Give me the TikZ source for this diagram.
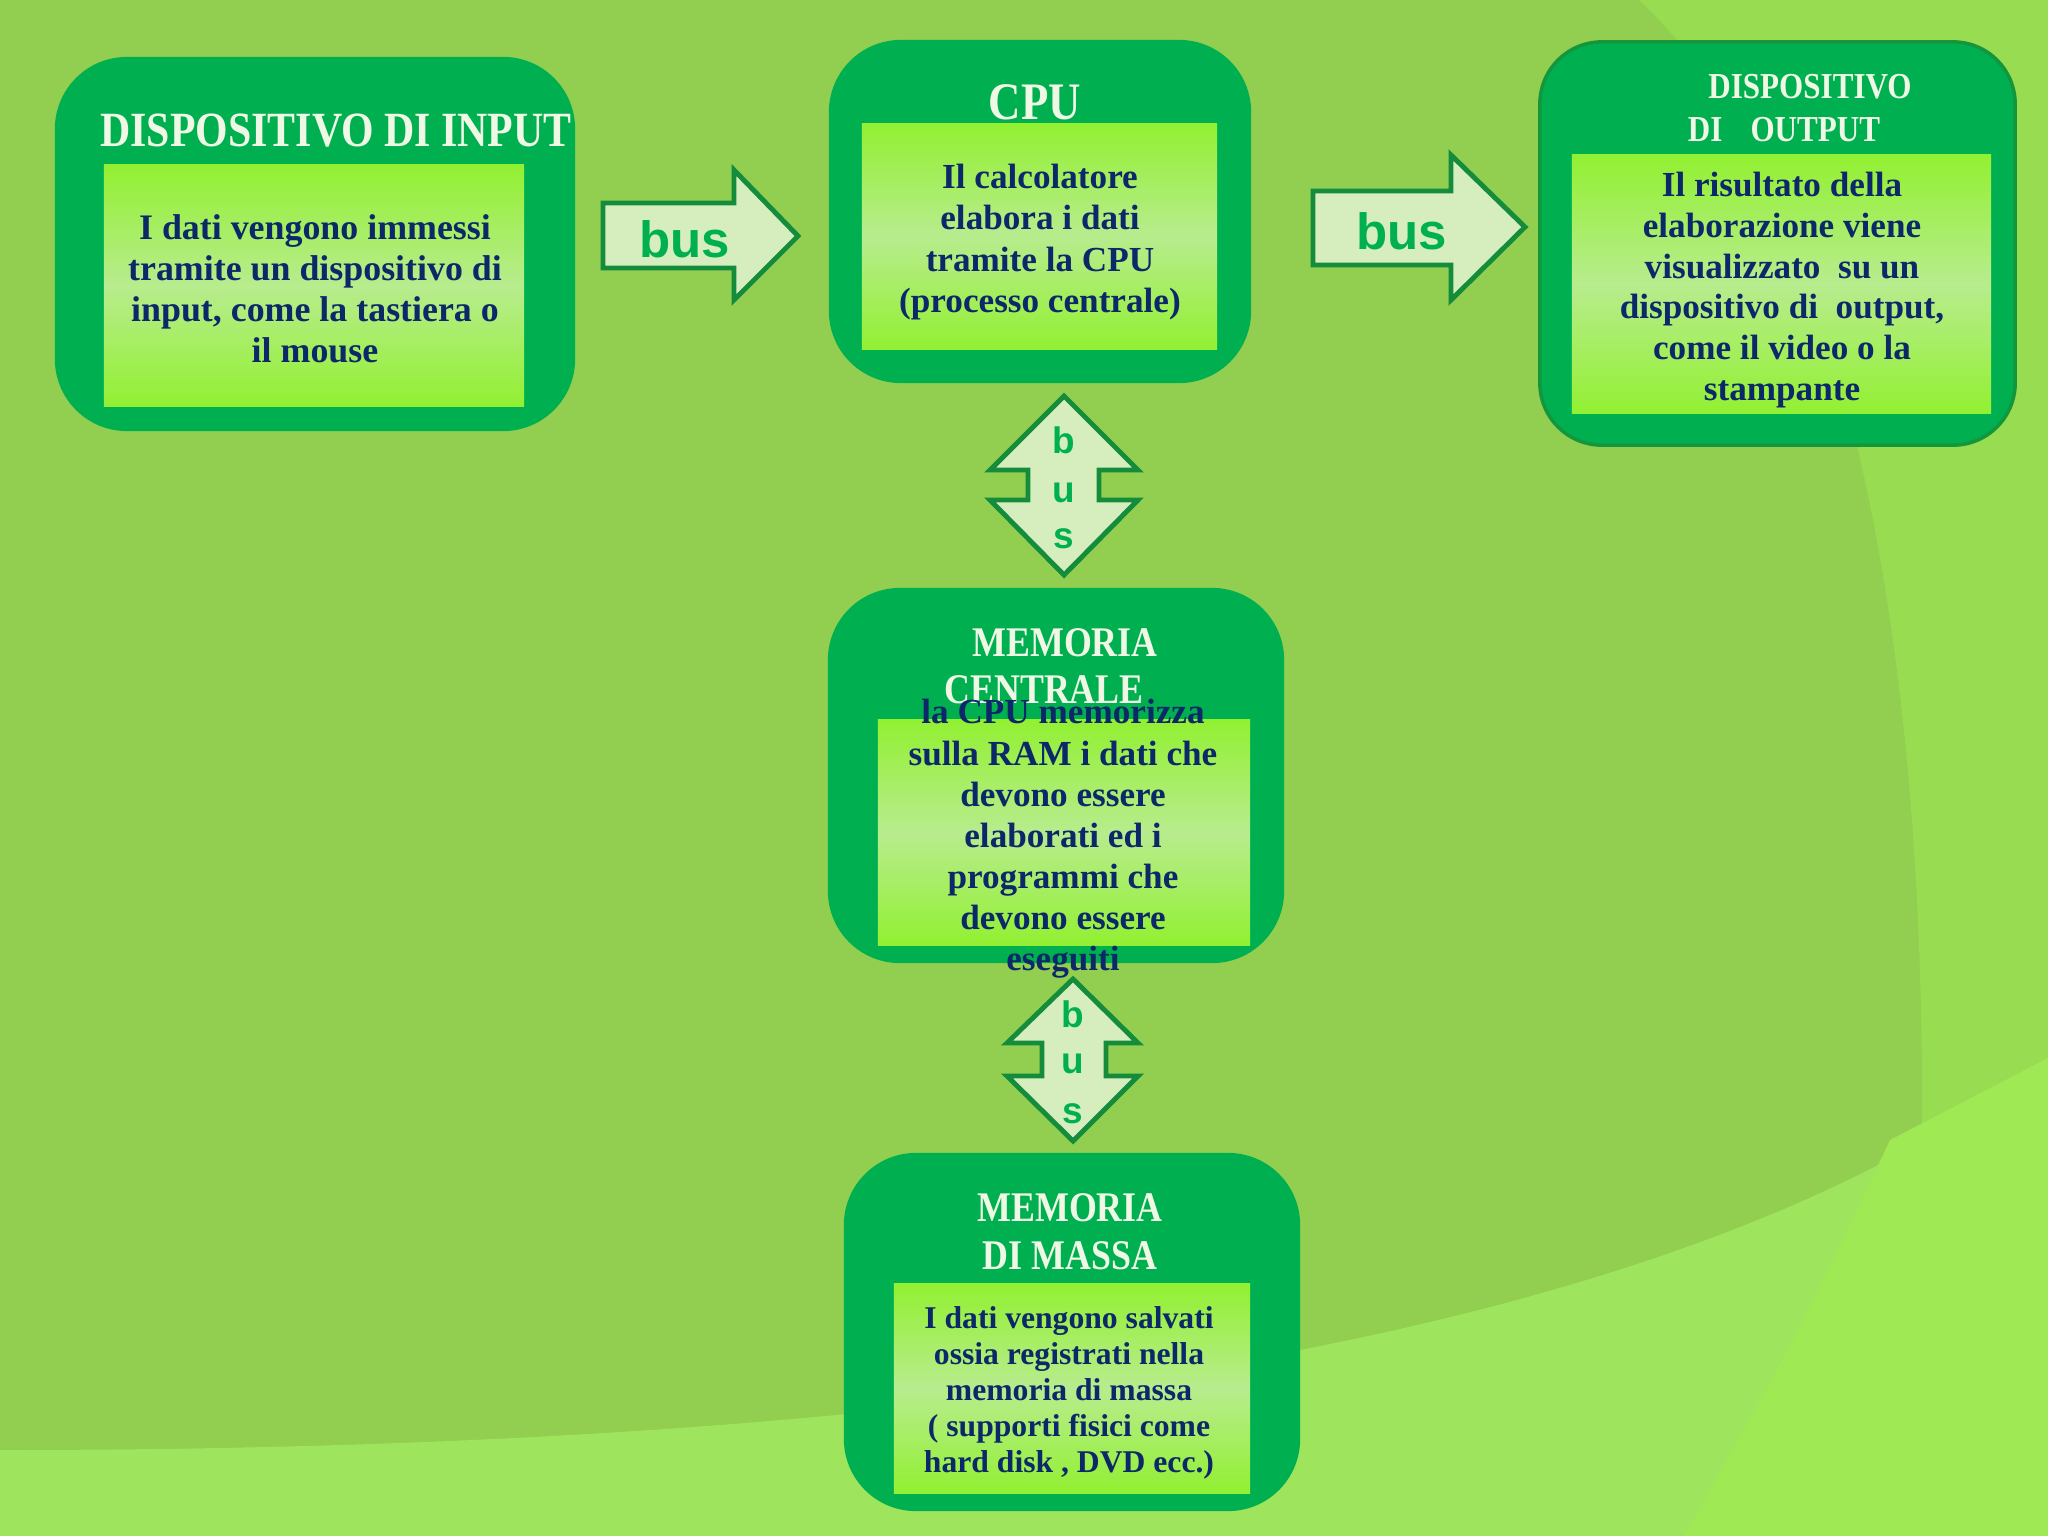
\documentclass[tikz,border=0pt]{standalone}
\usepackage{fontspec}
\newfontfamily\ttlfont{Liberation Serif}[FakeStretch=0.85]
\newfontfamily\bdyfont{Liberation Serif}
\newfontfamily\busfont{Liberation Sans}
\newcommand\fsz[2]{\fontsize{#1}{#2}\selectfont}
\definecolor{bgmain}{RGB}{146,206,80}
\definecolor{bgtr}{RGB}{152,220,82}
\definecolor{bgbot}{RGB}{158,228,92}
\definecolor{bgcorner}{RGB}{158,233,84}
\definecolor{boxgreen}{RGB}{0,176,80}
\definecolor{boxborder}{RGB}{20,150,60}
\definecolor{innertop}{RGB}{146,240,50}
\definecolor{innermid}{RGB}{184,236,142}
\definecolor{ttlcol}{RGB}{238,248,228}
\definecolor{bdycol}{RGB}{12,40,105}
\definecolor{arrfill}{RGB}{214,238,190}
\definecolor{arrline}{RGB}{20,140,60}
\definecolor{buscol}{RGB}{0,176,80}
\begin{document}
\begin{tikzpicture}[x=0.01cm,y=-0.01cm,
  obox/.style={fill=boxgreen, rounded corners=0.72cm, inner sep=0pt},
  ibox/.style={top color=innertop, bottom color=innertop, middle color=innermid, inner sep=0pt},
  ttl/.style={text=ttlcol, inner sep=0pt, align=center},
  bdy/.style={text=bdycol, inner sep=0pt, align=center},
  barrow/.style={fill=arrfill, draw=arrline, line width=1.4pt, line join=miter},
  bustxt/.style={text=buscol, inner sep=0pt, anchor=base, font=\busfont\bfseries\fsz{14.5pt}{18pt}},
  vbustxt/.style={text=buscol, inner sep=0pt, anchor=base, font=\busfont\bfseries\fsz{10.5pt}{13pt}}]
\useasboundingbox (0,0) rectangle (2048,1536);
% background
\fill[bgmain] (0,0) rectangle (2048,1536);
\fill[bgtr] (1639,0) .. controls (1800,150) and (1920,500) .. (1922,1090) -- (1922,1250) -- (2048,1250) -- (2048,0) -- cycle;
\fill[bgbot] (0,1450) .. controls (1000,1450) and (1700,1330) .. (2048,1058) -- (2048,1536) -- (0,1536) -- cycle;
\fill[bgcorner] (1890,1140) .. controls (1800,1330) .. (1684,1536) -- (2048,1536) -- (2048,1058) -- cycle;
% input
\node[obox, minimum width=5.20cm, minimum height=3.74cm] (inO) at (315,244) {};
\node[ibox, minimum width=4.20cm, minimum height=2.41cm] (inI) at (314,285.5) {};
\node[ttl, font=\ttlfont\bfseries\fsz{14pt}{16pt}] (inT) at (336,131) {DISPOSITIVO DI INPUT};
\node[bdy, font=\bdyfont\bfseries\fsz{10.2pt}{11.7pt}] (inB) at (315,289) {I dati vengono immessi\\tramite un dispositivo di\\input, come la tastiera o\\il mouse};
% cpu
\node[obox, minimum width=4.22cm, minimum height=3.43cm] (cpuO) at (1040,211.5) {};
\node[ibox, minimum width=3.55cm, minimum height=2.25cm] (cpuI) at (1039.5,236.5) {};
\node[ttl, font=\ttlfont\bfseries\fsz{15pt}{17pt}] (cpuT) at (1035,102) {CPU};
\node[bdy, font=\bdyfont\bfseries\fsz{10pt}{11.8pt}] (cpuB) at (1040,242) {Il calcolatore\\elabora i dati\\tramite la CPU\\(processo centrale)};
% output
\node[obox, draw=boxborder, line width=1pt, rounded corners=0.62cm, minimum width=4.75cm, minimum height=4.03cm] (outO) at (1777.5,243.5) {};
\node[ibox, minimum width=4.19cm, minimum height=2.58cm] (outI) at (1781.5,284) {};
\node[ttl, font=\ttlfont\bfseries\fsz{10.4pt}{12pt}] (outT1) at (1810,87) {DISPOSITIVO};
\node[ttl, font=\ttlfont\bfseries\fsz{10.4pt}{12pt}] (outT2) at (1784,130) {DI\hspace{8pt}OUTPUT};
\node[bdy, font=\bdyfont\bfseries\fsz{10pt}{11.6pt}] (outB) at (1782,290) {Il risultato della\\elaborazione viene\\visualizzato\ \ su un\\dispositivo di\ \ output,\\come il video o la\\stampante};
% memoria centrale
\node[obox, minimum width=4.56cm, minimum height=3.75cm] (mcO) at (1056,775.5) {};
\node[ibox, minimum width=3.72cm, minimum height=2.25cm] (mcI) at (1064,832.5) {};
\node[ttl, font=\ttlfont\bfseries\fsz{12pt}{14pt}] (mcT1) at (1065,643) {MEMORIA};
\node[ttl, font=\ttlfont\bfseries\fsz{12pt}{14pt}] (mcT2) at (1044,690) {CENTRALE};
\node[bdy, font=\bdyfont\bfseries\fsz{10pt}{11.7pt}] (mcB) at (1063,839) {la CPU memorizza\\sulla RAM i dati che\\devono essere\\elaborati ed i\\programmi che\\devono essere\\eseguiti};
% memoria di massa
\node[obox, minimum width=4.56cm, minimum height=3.58cm] (mmO) at (1072,1332) {};
\node[ibox, minimum width=3.56cm, minimum height=2.09cm] (mmI) at (1072,1388.5) {};
\node[ttl, font=\ttlfont\bfseries\fsz{12pt}{13.7pt}] (mmT) at (1070,1232) {MEMORIA\\DI MASSA};
\node[bdy, font=\bdyfont\bfseries\fsz{9pt}{10.2pt}] (mmB) at (1069,1393) {I dati vengono salvati\\ossia registrati nella\\memoria di massa\\( supporti fisici come\\hard disk , DVD ecc.)};
% bus arrows
\draw[barrow] (603,203) -- (734,203) -- (734,170) -- (798,236) -- (734,300) -- (734,268) -- (603,268) -- cycle;
\node[bustxt] (bus1) at (685,257) {bus};
\draw[barrow] (1313,191) -- (1451,191) -- (1451,155) -- (1525,227) -- (1451,300) -- (1451,265) -- (1313,265) -- cycle;
\node[bustxt] (bus2) at (1402,249) {bus};
\draw[barrow] (1064,396) -- (1138,470) -- (1099,470) -- (1099,500) -- (1138,500) -- (1064,575) -- (990,500) -- (1028,500) -- (1028,470) -- (990,470) -- cycle;
\node[vbustxt] (v1b) at (1064,453) {b};
\node[vbustxt] (v1u) at (1064,502) {u};
\node[vbustxt] (v1s) at (1064,548) {s};
\draw[barrow] (1073,979) -- (1138,1043) -- (1106,1043) -- (1106,1076) -- (1138,1076) -- (1073,1141) -- (1007,1076) -- (1042,1076) -- (1042,1043) -- (1007,1043) -- cycle;
\node[vbustxt] (v2b) at (1073,1027) {b};
\node[vbustxt] (v2u) at (1073,1073) {u};
\node[vbustxt] (v2s) at (1073,1123) {s};
\end{tikzpicture}
\end{document}
